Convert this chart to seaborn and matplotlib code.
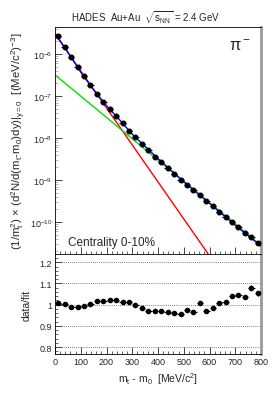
import numpy as np
import pandas as pd
import matplotlib
matplotlib.use("Agg")
import matplotlib.pyplot as plt
import seaborn as sns
from matplotlib.ticker import MultipleLocator, FixedLocator, NullFormatter, LogFormatterSciNotation

# dados (pi-, centralidade 0-10%)
mt_bins = [12.5, 37.5, 62.5, 87.5, 112.5, 137.5, 162.5, 187.5, 212.5, 237.5,
           262.5, 287.5, 312.5, 337.5, 362.5, 387.5, 412.5, 437.5, 462.5, 487.5,
           512.5, 537.5, 562.5, 587.5, 612.5, 637.5, 662.5, 687.5, 712.5, 737.5,
           762.5, 787.5]
spectrum = [2.63e-6, 1.45e-6, 8.3e-7, 4.8e-7, 2.95e-7, 1.82e-7, 1.12e-7, 7.4e-8,
            5.0e-8, 3.4e-8, 2.3e-8, 1.45e-8, 1.05e-8, 7.4e-9, 5.1e-9, 3.6e-9,
            2.75e-9, 1.95e-9, 1.38e-9, 1.02e-9, 7.8e-10, 5.75e-10, 4.4e-10, 3.1e-10,
            2.4e-10, 1.78e-10, 1.32e-10, 1.0e-10, 7.8e-11, 5.6e-11, 4.4e-11, 3.2e-11]
ratio = [1.008, 1.003, 0.988, 0.988, 0.992, 1.003, 1.015, 1.015, 1.023, 1.023,
         1.011, 1.011, 1.000, 0.985, 0.971, 0.970, 0.970, 0.965, 0.961, 0.955,
         0.977, 0.965, 1.006, 0.971, 0.983, 1.006, 1.011, 1.042, 1.047, 1.036,
         1.080, 1.053]
ratio_err = [0.004, 0.004, 0.004, 0.004, 0.004, 0.004, 0.004, 0.004, 0.004, 0.004,
             0.004, 0.004, 0.004, 0.004, 0.004, 0.004, 0.004, 0.004, 0.004, 0.004,
             0.005, 0.005, 0.005, 0.005, 0.006, 0.006, 0.006, 0.007, 0.008, 0.009,
             0.012, 0.012]
bin_half = 12.5

# componentes do ajuste
red_x = [0, 595]
red_y = [3.0e-6, 1.74e-11]
green_x = [0, 800]
green_y = [3.2e-7, 2.8e-11]
blue_x = [0, 50, 100, 150, 200, 250, 300, 400, 500, 600, 700, 800]
blue_y = [3.16e-6, 1.1e-6, 3.7e-7, 1.41e-7, 5.9e-8, 2.75e-8, 1.23e-8,
          3.24e-9, 9.1e-10, 2.79e-10, 8.4e-11, 2.7e-11]

# eixos
ylim_top = (1.74e-11, 4.4e-6)
ylim_ratio = (0.767, 1.239)
decades = [1e-10, 1e-9, 1e-8, 1e-7, 1e-6]
ratio_ticks = [0.8, 0.9, 1.0, 1.1, 1.2]
ratio_labels = ['0.8', '0.9', '1', '1.1', '1.2']

sns.set_theme(style="ticks")
plt.rcParams['font.family'] = ['Liberation Sans', 'DejaVu Sans']
plt.rcParams['mathtext.fontset'] = 'custom'
plt.rcParams['mathtext.rm'] = 'Liberation Sans'
plt.rcParams['mathtext.it'] = 'Liberation Sans:italic'
plt.rcParams['mathtext.default'] = 'regular'

W, H = 274, 410
fig = plt.figure(figsize=(W / 100, H / 100), dpi=100)
left, right = 55 / W, 261 / W
ax = fig.add_axes([left, 1 - 255 / H, right - left, (255 - 28) / H])
axr = fig.add_axes([left, 1 - 355 / H, right - left, (355 - 255) / H])

# painel de cima
sns.lineplot(x=red_x, y=red_y, ax=ax, color='#ff0000', lw=1.0, zorder=2)
sns.lineplot(x=green_x, y=green_y, ax=ax, color='#00e000', lw=1.0, zorder=2)
sns.lineplot(x=blue_x, y=blue_y, ax=ax, color='#0000ff', lw=1.0, zorder=3)
ax.errorbar(mt_bins, spectrum, xerr=bin_half, fmt='o', color='black', ms=3.3,
            elinewidth=0.8, capsize=0, zorder=4)
ax.set_yscale('log')
ax.set_xlim(0, 800)
ax.set_ylim(*ylim_top)
minor = [m * d for d in [1e-11] + decades for m in range(2, 10)]
minor = [v for v in minor if ylim_top[0] <= v <= ylim_top[1]]
ax.yaxis.set_major_locator(FixedLocator(decades))
ax.yaxis.set_major_formatter(LogFormatterSciNotation())
ax.yaxis.set_minor_locator(FixedLocator(minor))
ax.yaxis.set_minor_formatter(NullFormatter())
ax.xaxis.set_major_locator(MultipleLocator(100))
ax.xaxis.set_minor_locator(MultipleLocator(20))
ax.xaxis.set_major_formatter(NullFormatter())
ax.set_ylabel(r'(1/m$_{\mathrm{t}}^{2}$) $\times$ (d$^{2}$N/d(m$_{\mathrm{t}}$-m$_{0}$)dy)$|_{\mathrm{y=0}}$  [(MeV/c$^{2}$)$^{-3}$]',
              fontsize=8.2, labelpad=1)
ax.text(0.065, 0.04, 'Centrality 0-10%', transform=ax.transAxes, fontsize=8.5)
ax.text(0.9, 0.92, r'$\pi^-$', transform=ax.transAxes, fontsize=12, ha='center', va='center')

# painel de baixo
for v in ratio_ticks:
    axr.axhline(v, color='#555555', lw=0.6, ls=(0, (1, 1.5)), zorder=1)
axr.errorbar(mt_bins, ratio, xerr=bin_half, yerr=ratio_err, fmt='o', color='black',
             ms=3.0, elinewidth=0.8, capsize=0, zorder=4)
axr.set_xlim(0, 800)
axr.set_ylim(*ylim_ratio)
axr.yaxis.set_major_locator(FixedLocator(ratio_ticks))
axr.yaxis.set_minor_locator(MultipleLocator(0.02))
axr.set_yticklabels(ratio_labels)
axr.xaxis.set_major_locator(MultipleLocator(100))
axr.xaxis.set_minor_locator(MultipleLocator(20))
axr.set_ylabel('data/fit', fontsize=7.5, labelpad=6)
axr.set_xlabel(r'm$_{\mathrm{t}}$ - m$_{0}$  [MeV/c$^{2}$]', fontsize=7.5, labelpad=3)

for a in (ax, axr):
    a.tick_params(which='both', direction='in', top=False, right=False, labelsize=6.5, pad=2)
    a.tick_params(which='major', length=5, width=0.6)
    a.tick_params(which='minor', length=2.5, width=0.5)
    for s in ['left', 'bottom', 'top']:
        a.spines[s].set_linewidth(0.6)
        a.spines[s].set_color('black')
    a.spines['right'].set_color('#999999')
    a.spines['right'].set_linewidth(2)
ax.tick_params(axis='y', which='minor', color='#999999')

fig.text(146 / W, 1 - 18 / H, r'HADES  Au+Au  $\sqrt{s_{\mathrm{NN}}}$ = 2.4 GeV',
         ha='center', va='center', fontsize=7)

fig.savefig('out.png', dpi=100)
